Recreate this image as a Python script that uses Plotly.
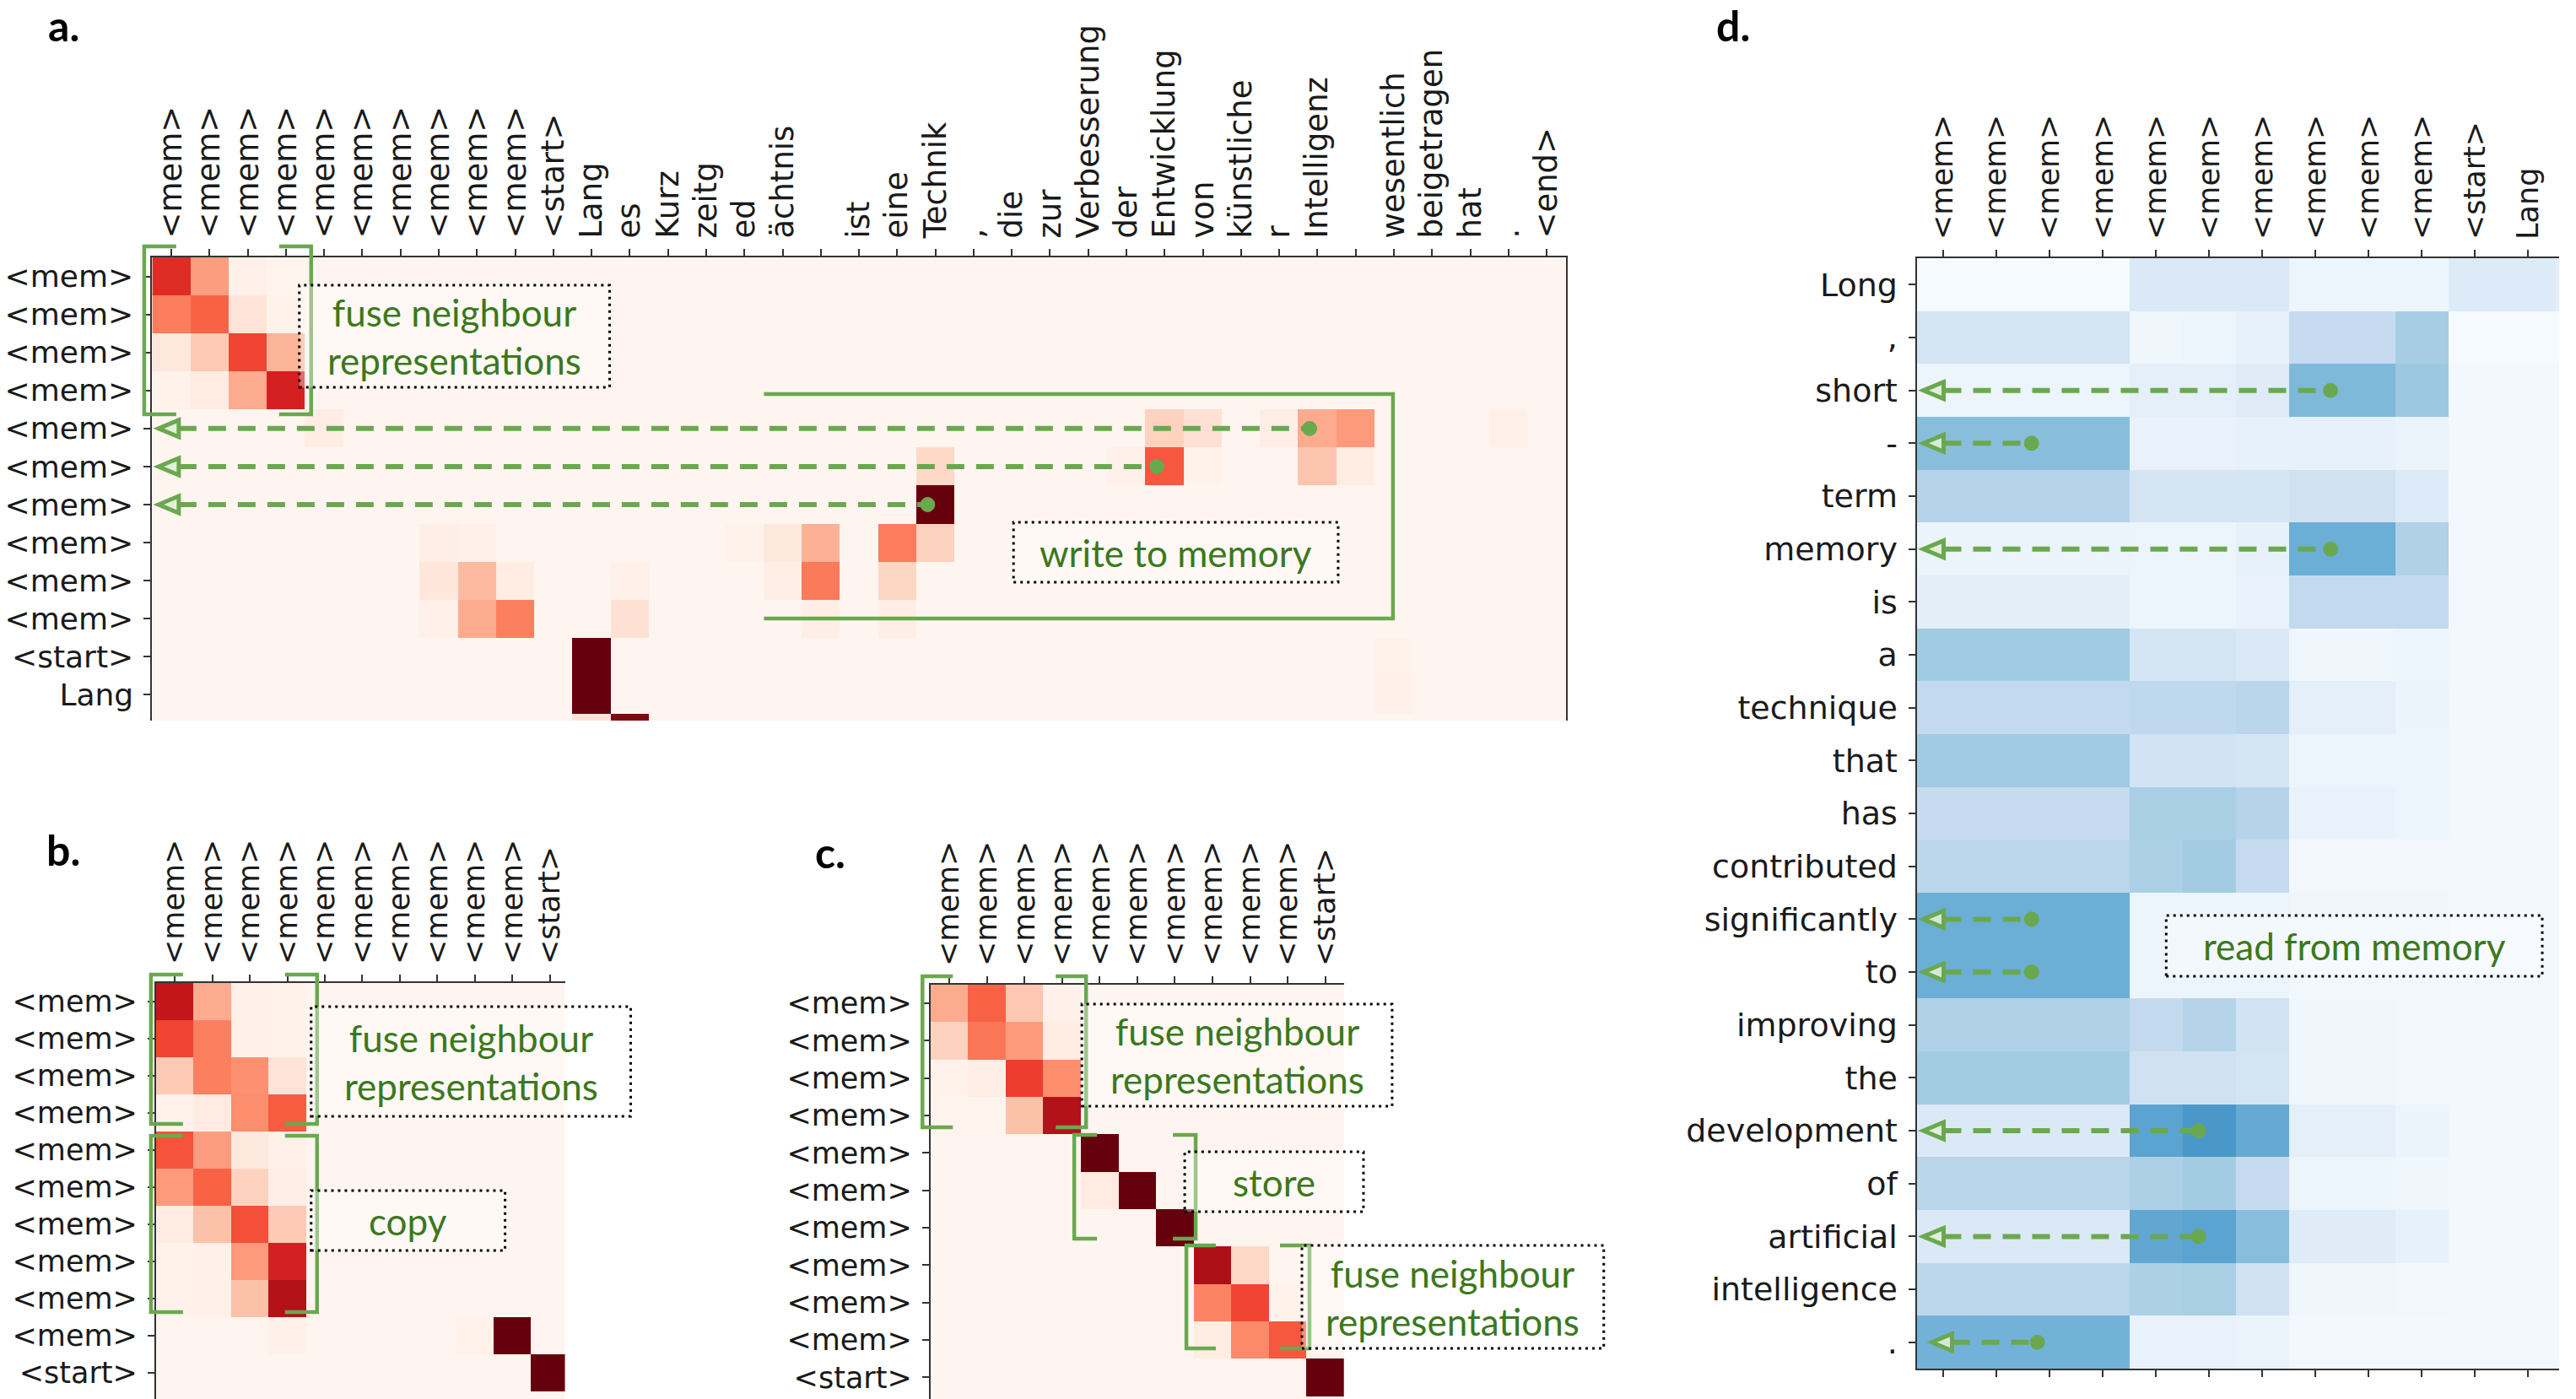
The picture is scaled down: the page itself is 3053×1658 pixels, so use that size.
import plotly.graph_objects as go

W, H = 3053, 1658

REDS = ["#fff5f0", "#fee0d2", "#fcbba1", "#fc9272", "#fb6a4a",
        "#ef3b2c", "#cb181d", "#a50f15", "#67000d"]
BLUES = ["#f7fbff", "#deebf7", "#c6dbef", "#9ecae1", "#6baed6",
         "#4292c6", "#2171b5", "#08519c", "#08306b"]

M = "&lt;mem&gt;"
S = "&lt;start&gt;"
E = "&lt;end&gt;"

# ---------------- panel a ----------------
a_x_labels = [M, M, M, M, M, M, M, M, M, M,
              S, "Lang", "es", "Kurz", "zeitg", "ed", "ächtnis", "", "ist", "eine",
              "Technik", ",", "die", "zur", "Verbesserung", "der", "Entwicklung", "von", "künstliche", "r",
              "Intelligenz", "", "wesentlich", "beigetragen", "hat", ".", E]
a_y_labels = [M, M, M, M, M, M, M, M, M, M, S, "Lang", "es"]
a_values = [
    [0.68, 0.34, 0.03, 0.01, 0, 0, 0, 0, 0, 0,  0, 0, 0, 0, 0, 0, 0, 0, 0, 0,  0, 0, 0, 0, 0, 0, 0, 0, 0, 0,  0, 0, 0, 0, 0, 0, 0],
    [0.44, 0.52, 0.10, 0.02, 0, 0, 0, 0, 0, 0,  0, 0, 0, 0, 0, 0, 0, 0, 0, 0,  0, 0, 0, 0, 0, 0, 0, 0, 0, 0,  0, 0, 0, 0, 0, 0, 0],
    [0.08, 0.20, 0.60, 0.27, 0, 0, 0, 0, 0, 0,  0, 0, 0, 0, 0, 0, 0, 0, 0, 0,  0, 0, 0, 0, 0, 0, 0, 0, 0, 0,  0, 0, 0, 0, 0, 0, 0],
    [0.02, 0.06, 0.30, 0.72, 0, 0, 0, 0, 0, 0,  0, 0, 0, 0, 0, 0, 0, 0, 0, 0,  0, 0, 0, 0, 0, 0, 0, 0, 0, 0,  0, 0, 0, 0, 0, 0, 0],
    [0, 0, 0, 0, 0.05, 0, 0, 0, 0, 0,  0, 0, 0, 0, 0, 0, 0, 0, 0, 0,  0, 0, 0, 0, 0, 0, 0.17, 0.12, 0, 0.04,  0.30, 0.35, 0, 0, 0, 0.03, 0],
    [0, 0, 0, 0, 0, 0, 0, 0, 0, 0,  0, 0, 0, 0, 0, 0, 0, 0, 0, 0,  0.15, 0, 0, 0, 0, 0.03, 0.55, 0.02, 0, 0,  0.22, 0.05, 0, 0, 0, 0, 0],
    [0, 0, 0, 0, 0, 0, 0, 0, 0, 0,  0, 0, 0, 0, 0, 0, 0, 0, 0, 0,  1.0, 0, 0, 0, 0, 0, 0, 0, 0, 0,  0, 0, 0, 0, 0, 0, 0],
    [0, 0, 0, 0, 0, 0, 0, 0.04, 0.03, 0,  0, 0, 0, 0, 0, 0.02, 0.08, 0.28, 0, 0.44,  0.17, 0, 0, 0, 0, 0, 0, 0, 0, 0,  0, 0, 0, 0, 0, 0, 0],
    [0, 0, 0, 0, 0, 0, 0, 0.09, 0.25, 0.05,  0, 0, 0.03, 0, 0, 0, 0.04, 0.45, 0, 0.16,  0, 0, 0, 0, 0, 0, 0, 0, 0, 0,  0, 0, 0, 0, 0, 0, 0],
    [0, 0, 0, 0, 0, 0, 0, 0.03, 0.30, 0.43,  0, 0, 0.12, 0, 0, 0, 0, 0.04, 0, 0.04,  0, 0, 0, 0, 0, 0, 0, 0, 0, 0,  0, 0, 0, 0, 0, 0, 0],
    [0, 0, 0, 0, 0, 0, 0, 0, 0, 0,  0, 1.0, 0, 0, 0, 0, 0, 0, 0, 0,  0, 0, 0, 0, 0, 0, 0, 0, 0, 0,  0, 0, 0.02, 0, 0, 0, 0],
    [0, 0, 0, 0, 0, 0, 0, 0, 0, 0,  0, 1.0, 0, 0, 0, 0, 0, 0, 0, 0,  0, 0, 0, 0, 0, 0, 0, 0, 0, 0,  0, 0, 0.03, 0, 0, 0, 0],
    [0, 0, 0, 0, 0, 0, 0, 0, 0, 0,  0, 0.10, 0.95, 0, 0, 0, 0, 0, 0, 0,  0, 0, 0, 0, 0, 0, 0, 0, 0, 0,  0, 0, 0, 0, 0, 0, 0],
]

# ---------------- panel b ----------------
b_x_labels = [M, M, M, M, M, M, M, M, M, M, S]
b_y_labels = [M, M, M, M, M, M, M, M, M, M, S, "Lang"]
b_values = [
    [0.78, 0.30, 0.03, 0.02, 0, 0, 0, 0, 0, 0, 0],
    [0.60, 0.43, 0.03, 0.02, 0, 0, 0, 0, 0, 0, 0],
    [0.20, 0.43, 0.38, 0.10, 0, 0, 0, 0, 0, 0, 0],
    [0.02, 0.06, 0.39, 0.54, 0, 0, 0, 0, 0, 0, 0],
    [0.56, 0.34, 0.07, 0.03, 0, 0, 0, 0, 0, 0, 0],
    [0.35, 0.52, 0.17, 0.04, 0, 0, 0, 0, 0, 0, 0],
    [0.05, 0.23, 0.57, 0.20, 0, 0, 0, 0, 0, 0, 0],
    [0.02, 0.03, 0.35, 0.72, 0, 0, 0, 0, 0, 0, 0],
    [0.02, 0.03, 0.23, 0.83, 0, 0, 0, 0, 0, 0, 0],
    [0, 0, 0, 0.03, 0, 0, 0, 0, 0.02, 1.0, 0],
    [0, 0, 0, 0, 0, 0, 0, 0, 0, 0, 1.0],
    [0, 0, 0, 0, 0, 0, 0, 0, 0, 0, 0],
]

# ---------------- panel c ----------------
c_x_labels = [M, M, M, M, M, M, M, M, M, M, S]
c_y_labels = [M, M, M, M, M, M, M, M, M, M, S, "Lang"]
c_values = [
    [0.30, 0.52, 0.21, 0.03, 0, 0, 0, 0, 0, 0, 0],
    [0.17, 0.46, 0.35, 0.05, 0, 0, 0, 0, 0, 0, 0],
    [0.02, 0.04, 0.62, 0.39, 0, 0, 0, 0, 0, 0, 0],
    [0.01, 0.01, 0.23, 0.83, 0, 0, 0, 0, 0, 0, 0],
    [0, 0, 0, 0, 1.0, 0, 0, 0, 0, 0, 0],
    [0, 0, 0, 0, 0.06, 1.0, 0, 0, 0, 0, 0],
    [0, 0, 0, 0, 0, 0, 1.0, 0, 0, 0, 0],
    [0, 0, 0, 0, 0, 0, 0, 0.85, 0.15, 0, 0],
    [0, 0, 0, 0, 0, 0, 0, 0.42, 0.60, 0.02, 0],
    [0, 0, 0, 0, 0, 0, 0, 0.05, 0.40, 0.55, 0],
    [0, 0, 0, 0, 0, 0, 0, 0, 0, 0, 1.0],
    [0, 0, 0, 0, 0, 0, 0, 0, 0, 0, 0],
]

# ---------------- panel d ----------------
d_x_labels = [M, M, M, M, M, M, M, M, M, M, S, "Lang", "es"]
d_y_labels = ["Long", ",", "short", "-", "term", "memory", "is", "a", "technique", "that",
              "has", "contributed", "significantly", "to", "improving", "the", "development",
              "of", "artificial", "intelligence", "."]
d_values = [
    [0.01, 0.01, 0.01, 0.01, 0.14, 0.14, 0.14, 0.05, 0.05, 0.05, 0.13, 0.13, 0.10],
    [0.18, 0.18, 0.18, 0.18, 0.04, 0.05, 0.08, 0.25, 0.25, 0.35, 0.01, 0.01, 0.01],
    [0.05, 0.05, 0.05, 0.05, 0.09, 0.09, 0.12, 0.45, 0.45, 0.38, 0.02, 0.02, 0.02],
    [0.43, 0.43, 0.43, 0.43, 0.07, 0.07, 0.08, 0.08, 0.08, 0.06, 0.02, 0.02, 0.02],
    [0.30, 0.30, 0.30, 0.30, 0.17, 0.17, 0.17, 0.20, 0.20, 0.13, 0.02, 0.02, 0.02],
    [0.06, 0.06, 0.06, 0.06, 0.05, 0.05, 0.08, 0.50, 0.50, 0.32, 0.02, 0.02, 0.02],
    [0.10, 0.10, 0.10, 0.10, 0.05, 0.05, 0.07, 0.26, 0.26, 0.26, 0.02, 0.02, 0.02],
    [0.37, 0.37, 0.37, 0.37, 0.17, 0.17, 0.14, 0.04, 0.04, 0.05, 0.02, 0.02, 0.02],
    [0.26, 0.26, 0.26, 0.26, 0.27, 0.27, 0.29, 0.09, 0.09, 0.06, 0.02, 0.02, 0.02],
    [0.37, 0.37, 0.37, 0.37, 0.19, 0.19, 0.17, 0.05, 0.05, 0.05, 0.02, 0.02, 0.02],
    [0.25, 0.25, 0.25, 0.25, 0.34, 0.34, 0.30, 0.07, 0.07, 0.05, 0.02, 0.02, 0.02],
    [0.28, 0.28, 0.28, 0.28, 0.33, 0.36, 0.25, 0.03, 0.03, 0.03, 0.02, 0.02, 0.02],
    [0.50, 0.50, 0.50, 0.50, 0.05, 0.05, 0.05, 0.04, 0.04, 0.04, 0.02, 0.02, 0.02],
    [0.50, 0.50, 0.50, 0.50, 0.05, 0.05, 0.05, 0.03, 0.03, 0.03, 0.02, 0.02, 0.02],
    [0.32, 0.32, 0.32, 0.32, 0.26, 0.30, 0.19, 0.04, 0.04, 0.03, 0.02, 0.02, 0.02],
    [0.36, 0.36, 0.36, 0.36, 0.20, 0.20, 0.18, 0.04, 0.04, 0.03, 0.02, 0.02, 0.02],
    [0.14, 0.14, 0.14, 0.14, 0.55, 0.60, 0.52, 0.09, 0.09, 0.06, 0.02, 0.02, 0.02],
    [0.29, 0.29, 0.29, 0.29, 0.33, 0.36, 0.25, 0.05, 0.05, 0.04, 0.02, 0.02, 0.02],
    [0.14, 0.14, 0.14, 0.14, 0.53, 0.55, 0.43, 0.12, 0.12, 0.08, 0.02, 0.02, 0.02],
    [0.28, 0.28, 0.28, 0.28, 0.33, 0.34, 0.20, 0.04, 0.04, 0.03, 0.02, 0.02, 0.02],
    [0.48, 0.48, 0.48, 0.48, 0.07, 0.07, 0.06, 0.02, 0.02, 0.02, 0.02, 0.02, 0.02],
]

# ---------------- layout geometry (pixels) ----------------
GREEN = "#6aa84f"
TEXTGREEN = "#3b781c"


def X(p):
    return p / W


def Y(p):
    return 1 - p / H


def tfont(size):
    return dict(family="DejaVu Sans", size=size, color="#1a1a1a")


panels = [
    # key, values, xlabels, ylabels, colorscale, left, right, top, bottom, xrange, yrange,
    # ymirror, xmirror, xfont, yfont
    ("", a_values, a_x_labels, a_y_labels, REDS, 180.5, 1857, 305, 854, [-0.5, 36.5], [11.68, -0.5],
     True, False, 37, 36),
    ("2", b_values, b_x_labels, b_y_labels, REDS, 185, 670, 1165, 1658, [-0.5, 10.4], [10.7, -0.5],
     False, False, 35, 35),
    ("3", c_values, c_x_labels, c_y_labels, REDS, 1103.5, 1594, 1167, 1658, [-0.5, 10.5], [10.58, -0.5],
     False, False, 35, 35),
    ("4", d_values, d_x_labels, d_y_labels, BLUES, 2273, 3035, 306, 1622, [-0.5, 11.58], [20.5, -0.5],
     False, "ticks", 35, 38),
]

fig = go.Figure()
layout_axes = {}
for key, vals, xl, yl, cs, l, r, t, b, xr, yr, ymir, xmir, xfs, yfs in panels:
    fig.add_trace(go.Heatmap(
        z=vals, x=list(range(len(vals[0]))), y=list(range(len(vals))),
        colorscale=cs, zmin=0, zmax=1, showscale=False, hoverinfo="skip",
        xaxis="x" + key, yaxis="y" + key))
    common = dict(showgrid=False, zeroline=False, ticks="outside", ticklen=8, tickwidth=2,
                  tickcolor="#333333", showline=True, linecolor="#333333", linewidth=2,
                  ticklabelstandoff=5)
    layout_axes["xaxis" + key] = dict(common, domain=[X(l), X(r)], range=xr, side="top",
                                      tickangle=-90, tickmode="array", tickfont=tfont(xfs),
                                      tickvals=list(range(len(xl))), ticktext=xl,
                                      anchor="y" + key, mirror=xmir)
    layout_axes["yaxis" + key] = dict(common, domain=[Y(b), Y(t)], range=yr, tickfont=tfont(yfs),
                                      tickmode="array", tickvals=list(range(len(yl))),
                                      ticktext=yl, anchor="x" + key, mirror=ymir)

shapes = []
annotations = []


def bracket(xl, xr, yt, yb, tick):
    for path in (
        f"M{X(xl + tick)},{Y(yt)} L{X(xl)},{Y(yt)} L{X(xl)},{Y(yb)} L{X(xl + tick)},{Y(yb)}",
        f"M{X(xr - tick)},{Y(yt)} L{X(xr)},{Y(yt)} L{X(xr)},{Y(yb)} L{X(xr - tick)},{Y(yb)}",
    ):
        shapes.append(dict(type="path", xref="paper", yref="paper", path=path,
                           line=dict(color=GREEN, width=4.5), layer="above"))


def textbox(x0, x1, y0, y1, text):
    shapes.append(dict(type="rect", xref="paper", yref="paper",
                       x0=X(x0), x1=X(x1), y0=Y(y1), y1=Y(y0),
                       line=dict(color="black", width=3, dash="3px,5px"),
                       fillcolor="rgba(255,255,255,0.35)", layer="above"))
    annotations.append(dict(xref="paper", yref="paper", x=X((x0 + x1) / 2), y=Y((y0 + y1) / 2),
                            text=text, showarrow=False, xanchor="center", yanchor="middle",
                            font=dict(family="Lato", size=44, color=TEXTGREEN)))


def arrow(yp, x_start, x_tip):
    back = x_tip + 24
    shapes.append(dict(type="line", xref="paper", yref="paper",
                       x0=X(back), x1=X(x_start), y0=Y(yp), y1=Y(yp),
                       line=dict(color=GREEN, width=6, dash="21px,14px"), layer="above"))
    shapes.append(dict(type="path", xref="paper", yref="paper",
                       path=f"M{X(x_tip)},{Y(yp)} L{X(back)},{Y(yp - 10)} L{X(back)},{Y(yp + 10)} Z",
                       line=dict(color=GREEN, width=5), fillcolor="rgba(225,238,215,0.9)",
                       layer="above"))
    shapes.append(dict(type="circle", xref="paper", yref="paper",
                       x0=X(x_start - 8.5), x1=X(x_start + 8.5), y0=Y(yp + 8.5), y1=Y(yp - 8.5),
                       line=dict(color=GREEN, width=1), fillcolor=GREEN, layer="above"))


# panel a annotations
A_L, A_CW, A_T, A_RH = 180.5, 45.3, 305, 45.08
bracket(171, 369, 292, 491, 38)
textbox(355, 723, 338, 459, "fuse neighbour<br>representations")
shapes.append(dict(type="path", xref="paper", yref="paper",
                   path=f"M{X(906)},{Y(467)} L{X(1652)},{Y(467)} L{X(1652)},{Y(733)} L{X(906)},{Y(733)}",
                   line=dict(color=GREEN, width=4.5), layer="above"))
textbox(1202, 1587, 619, 690, "write to memory")
for row, col in ((4, 30), (5, 26), (6, 20)):
    arrow(A_T + (row + 0.5) * A_RH, A_L + (col + 0.3) * A_CW, 188)

# panel b annotations
bracket(179, 376, 1155, 1332, 38)
bracket(179, 376, 1346, 1555, 38)
textbox(369, 748, 1193, 1323, "fuse neighbour<br>representations")
textbox(369, 599, 1411, 1482, "copy")

# panel c annotations
bracket(1094, 1288, 1157, 1336, 36)
bracket(1274, 1418, 1345, 1468, 27)
bracket(1407, 1553, 1476, 1598, 35)
textbox(1283, 1651, 1190, 1311, "fuse neighbour<br>representations")
textbox(1405, 1617, 1365, 1436, "store")
textbox(1544, 1902, 1476, 1598, "fuse neighbour<br>representations")

# panel d annotations
D_L, D_CW, D_T, D_RH = 2273, 63.1, 306, 62.67
for row, col in ((2, 7.28), (3, 1.66), (5, 7.28), (12, 1.66), (13, 1.66),
                 (16, 4.8), (18, 4.8), (20, 1.77)):
    arrow(D_T + (row + 0.5) * D_RH, D_L + (col + 0.5) * D_CW, 2281 if row != 20 else 2291)
textbox(2569, 3015, 1085, 1157, "read from memory")

# panel letters
for txt, cx, cy in (("a.", 76, 30), ("b.", 75, 1007), ("c.", 985, 1010), ("d.", 2055, 30)):
    annotations.append(dict(xref="paper", yref="paper", x=X(cx), y=Y(cy), text=txt,
                            showarrow=False, xanchor="center", yanchor="middle",
                            font=dict(family="Lato", size=50, color="black", weight=700)))

fig.update_layout(
    width=W, height=H, autosize=False,
    margin=dict(l=0, r=0, t=0, b=0),
    paper_bgcolor="white", plot_bgcolor="white",
    showlegend=False,
    shapes=shapes, annotations=annotations,
    **layout_axes,
)

fig.write_html("out.html", config={"displayModeBar": False},
               post_script="document.body.style.margin='0';document.body.style.overflow='hidden';")
